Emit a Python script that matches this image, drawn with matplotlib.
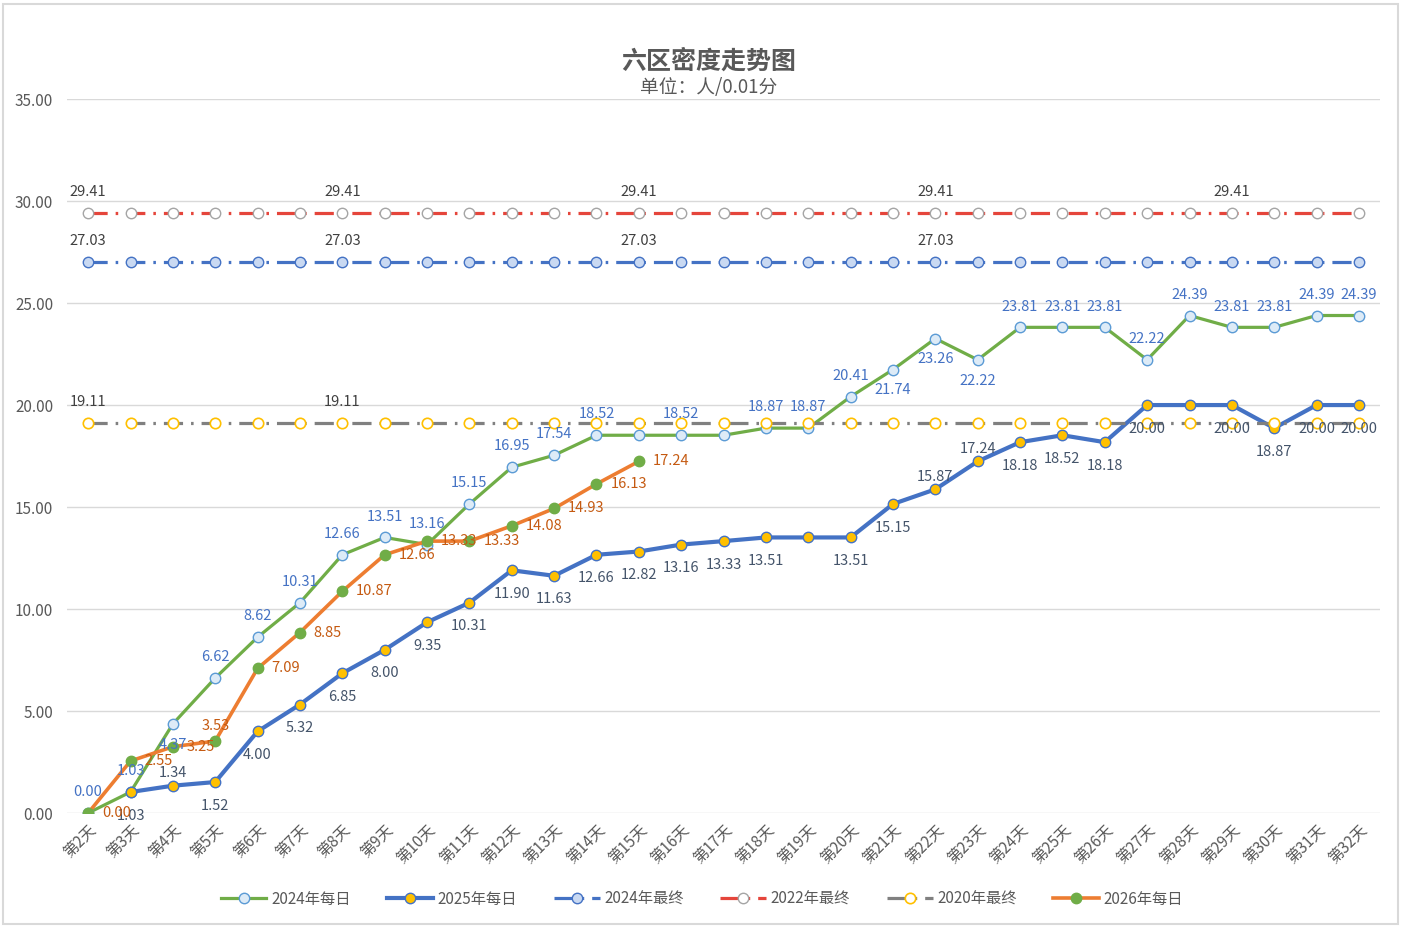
import matplotlib
matplotlib.use("Agg")
import matplotlib.pyplot as plt
from matplotlib.patches import Rectangle

plt.rcParams['font.family'] = ['Noto Sans CJK SC', 'DejaVu Sans']

# --- dades ---
days = ["第2天", "第3天", "第4天", "第5天", "第6天", "第7天", "第8天", "第9天",
        "第10天", "第11天", "第12天", "第13天", "第14天", "第15天", "第16天",
        "第17天", "第18天", "第19天", "第20天", "第21天", "第22天", "第23天",
        "第24天", "第25天", "第26天", "第27天", "第28天", "第29天", "第30天",
        "第31天", "第32天"]

daily_2024 = [0.00, 1.03, 4.37, 6.62, 8.62, 10.31, 12.66, 13.51, 13.16, 15.15,
              16.95, 17.54, 18.52, 18.52, 18.52, 18.52, 18.87, 18.87, 20.41,
              21.74, 23.26, 22.22, 23.81, 23.81, 23.81, 22.22, 24.39, 23.81,
              23.81, 24.39, 24.39]

daily_2025 = [None, 1.03, 1.34, 1.52, 4.00, 5.32, 6.85, 8.00, 9.35, 10.31,
              11.90, 11.63, 12.66, 12.82, 13.16, 13.33, 13.51, 13.51, 13.51,
              15.15, 15.87, 17.24, 18.18, 18.52, 18.18, 20.00, 20.00, 20.00,
              18.87, 20.00, 20.00]

daily_2026 = [0.00, 2.55, 3.25, 3.53, 7.09, 8.85, 10.87, 12.66, 13.33, 13.33,
              14.08, 14.93, 16.13, 17.24]

final_2024 = 27.03
final_2022 = 29.41
final_2020 = 19.11

# posicio de les etiquetes: a=amunt, b=avall, r=dreta, ''=cap
pos_2024 = ['a', 'a', 'b', 'a', 'a', 'a', 'a', 'a', 'a', 'a', 'a', 'a', 'a', '', 'a', '',
            'a', 'a', 'a', 'b', 'b', 'b', 'a', 'a', 'a', 'a', 'a', 'a', 'a', 'a', 'a']
pos_2025 = ['', 'b', 'a', 'b', 'b', 'b', 'b', 'b', 'b', 'b', 'b', 'b', 'b', 'b', 'b', 'b',
            'b', '', 'b', 'b', 'a', 'a', 'b', 'b', 'b', 'b', '', 'b', 'b', 'b', 'b']
pos_2026 = ['r', 'r', 'r', 'a', 'r', 'r', 'r', 'r', 'r', 'r', 'r', 'r', 'r', 'r']

lab_2022 = [0, 6, 13, 20, 27]
lab_2024f = [0, 6, 13, 20]
lab_2020 = [0, 6]

x = list(range(len(days)))

fig = plt.figure(figsize=(14.04, 9.26), dpi=100)
ax = fig.add_axes([0.0477, 0.122, 0.9353, 0.771])

dash = (0, (6, 2.5, 0.8, 2.5))

l1, = ax.plot(x, daily_2024, color="#70AD47", lw=2.3, marker="o", ms=7.5,
              mfc="#DDEBF7", mec="#5B9BD5", mew=1.0, zorder=3)
x25 = [i for i, v in zip(x, daily_2025) if v is not None]
v25 = [v for v in daily_2025 if v is not None]
l2, = ax.plot(x25, v25, color="#4472C4", lw=3.0, marker="o", ms=7.5,
              mfc="#FFC000", mec="#4472C4", mew=1.0, zorder=4)
l3, = ax.plot(x, [final_2024] * len(x), color="#4472C4", lw=2.3, ls=dash,
              marker="o", ms=7.5, mfc="#C9D9F2", mec="#4472C4", mew=1.0, zorder=5)
l4, = ax.plot(x, [final_2022] * len(x), color="#E5453B", lw=2.3, ls=dash,
              marker="o", ms=7.5, mfc="white", mec="#A5A5A5", mew=1.0, zorder=6)
l5, = ax.plot(x, [final_2020] * len(x), color="#808080", lw=2.3, ls=dash,
              marker="o", ms=7.5, mfc="white", mec="#FFC000", mew=1.2, zorder=7)
l6, = ax.plot(x[:len(daily_2026)], daily_2026, color="#ED7D31", lw=2.6, marker="o",
              ms=7.5, mfc="#70AD47", mec="#70AD47", mew=1.0, zorder=8)


def put_labels(xs, ys, pos, color, up, down):
    for xi, yi, p in zip(xs, ys, pos):
        if yi is None or p == '':
            continue
        if p == 'a':
            off, ha = (0, up), 'center'
        elif p == 'b':
            off, ha = (0, -down), 'center'
        else:
            off, ha = (10, 0), 'left'
        ax.annotate(f"{yi:.2f}", (xi, yi), xytext=off, textcoords="offset points",
                    ha=ha, va="center", fontsize=10.5, color=color, zorder=20)


put_labels(x, daily_2024, pos_2024, "#4472C4", 15, 15)
put_labels(x, daily_2025, pos_2025, "#44546A", 9, 17)
put_labels(x, daily_2026, pos_2026, "#C55A11", 11, 15)
for idx in lab_2022:
    ax.annotate(f"{final_2022:.2f}", (idx, final_2022), xytext=(0, 15),
                textcoords="offset points", ha="center", va="center",
                fontsize=10.5, color="#404040")
for idx in lab_2024f:
    ax.annotate(f"{final_2024:.2f}", (idx, final_2024), xytext=(0, 15),
                textcoords="offset points", ha="center", va="center",
                fontsize=10.5, color="#404040")
for idx in lab_2020:
    ax.annotate(f"{final_2020:.2f}", (idx, final_2020), xytext=(0, 15),
                textcoords="offset points", ha="center", va="center",
                fontsize=10.5, color="#404040")

ax.set_xlim(-0.5, len(days) - 0.5)
ax.set_ylim(0, 35)
ax.set_yticks([0, 5, 10, 15, 20, 25, 30, 35])
ax.set_yticklabels([f"{v:.2f}" for v in [0, 5, 10, 15, 20, 25, 30, 35]])
ax.set_xticks(x)
ax.set_xticklabels(days, rotation=45, ha="right", rotation_mode="anchor")
ax.tick_params(axis="both", length=0, labelsize=11, colors="#595959")
ax.tick_params(axis="y", pad=10)
ax.tick_params(axis="x", pad=6)
ax.grid(axis="y", color="#D9D9D9", lw=1.0)
ax.set_axisbelow(True)
for s in ax.spines.values():
    s.set_visible(False)

fig.text(0.505, 0.934, "六区密度走势图", ha="center", va="center",
         fontsize=18, fontweight="bold", color="#595959")
fig.text(0.505, 0.905, "单位：人/0.01分", ha="center", va="center",
         fontsize=13.5, color="#595959")

fig.legend([l1, l2, l3, l4, l5, l6],
           ["2024年每日", "2025年每日", "2024年最终", "2022年最终", "2020年最终", "2026年每日"],
           loc="center", bbox_to_anchor=(0.5, 0.029), ncol=6, frameon=False,
           fontsize=11, labelcolor="#595959", handlelength=3.0, handletextpad=0.3,
           columnspacing=2.4, numpoints=1)

fig.patches.append(Rectangle((0.002, 0.002), 0.994, 0.994, transform=fig.transFigure,
                             fill=False, edgecolor="#D9D9D9", lw=1.5))

fig.savefig("out.png", dpi=100)
